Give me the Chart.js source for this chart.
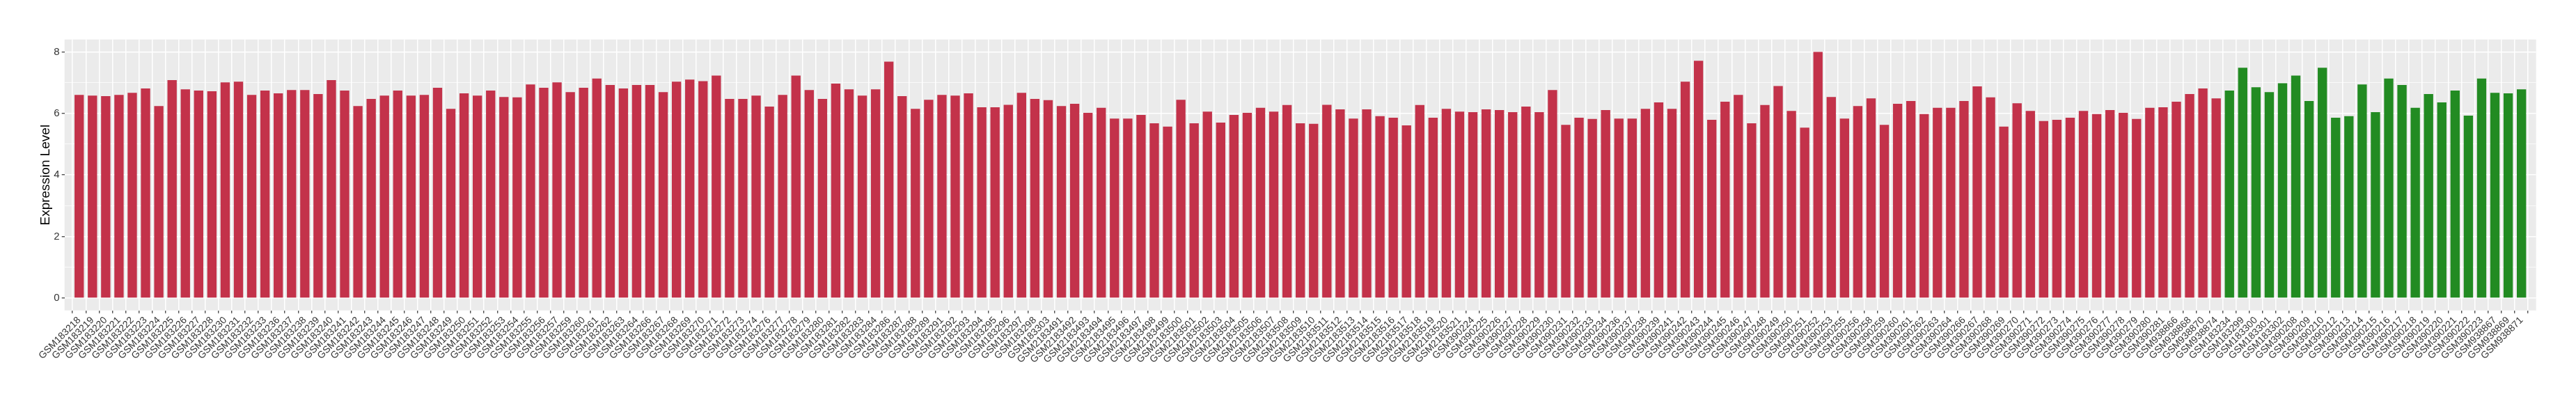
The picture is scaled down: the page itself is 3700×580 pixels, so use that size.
<!DOCTYPE html>
<html><head><meta charset="utf-8">
<script src="https://cdn.jsdelivr.net/npm/chart.js@4/dist/chart.umd.min.js"></script>
<style>html,body{margin:0;padding:0;background:#ffffff}#wrap{width:3700px;height:580px}</style>
</head><body><div id="wrap"><canvas id="c" width="3700" height="580"></canvas></div>
<script>
// ---- data ----
const caseSamples = [
'GSM183218','GSM183219','GSM183220','GSM183221','GSM183222','GSM183223','GSM183224','GSM183225','GSM183226','GSM183227',
'GSM183228','GSM183230','GSM183231','GSM183232','GSM183233','GSM183236','GSM183237','GSM183238','GSM183239','GSM183240',
'GSM183241','GSM183242','GSM183243','GSM183244','GSM183245','GSM183246','GSM183247','GSM183248','GSM183249','GSM183250',
'GSM183251','GSM183252','GSM183253','GSM183254','GSM183255','GSM183256','GSM183257','GSM183259','GSM183260','GSM183261',
'GSM183262','GSM183263','GSM183264','GSM183266','GSM183267','GSM183268','GSM183269','GSM183270','GSM183271','GSM183272',
'GSM183273','GSM183274','GSM183276','GSM183277','GSM183278','GSM183279','GSM183280','GSM183281','GSM183282','GSM183283',
'GSM183284','GSM183286','GSM183287','GSM183288','GSM183289','GSM183291','GSM183292','GSM183293','GSM183294','GSM183295',
'GSM183296','GSM183297','GSM183298','GSM183303',
'GSM2183491','GSM2183492','GSM2183493','GSM2183494','GSM2183495','GSM2183496','GSM2183497','GSM2183498','GSM2183499','GSM2183500',
'GSM2183501','GSM2183502','GSM2183503','GSM2183504','GSM2183505','GSM2183506','GSM2183507','GSM2183508','GSM2183509','GSM2183510',
'GSM2183511','GSM2183512','GSM2183513','GSM2183514','GSM2183515','GSM2183516','GSM2183517','GSM2183518','GSM2183519','GSM2183520',
'GSM2183521',
'GSM390224','GSM390225','GSM390226','GSM390227','GSM390228','GSM390229','GSM390230','GSM390231','GSM390232','GSM390233',
'GSM390234','GSM390236','GSM390237','GSM390238','GSM390239','GSM390241','GSM390242','GSM390243','GSM390244','GSM390245',
'GSM390246','GSM390247','GSM390248','GSM390249','GSM390250','GSM390251','GSM390252','GSM390253','GSM390255','GSM390256',
'GSM390258','GSM390259','GSM390260','GSM390261','GSM390262','GSM390263','GSM390264','GSM390266','GSM390267','GSM390268',
'GSM390269','GSM390270','GSM390271','GSM390272','GSM390273','GSM390274','GSM390275','GSM390276','GSM390277','GSM390278',
'GSM390279','GSM390280','GSM390281',
'GSM938866','GSM938868','GSM938870','GSM938874'
];
const caseValues = [
6.60,6.58,6.56,6.60,6.67,6.81,6.24,7.08,6.78,6.74,
6.72,7.01,7.03,6.60,6.74,6.65,6.76,6.76,6.63,7.08,
6.74,6.24,6.47,6.58,6.74,6.58,6.60,6.83,6.15,6.65,
6.58,6.74,6.53,6.52,6.94,6.83,7.01,6.69,6.83,7.13,
6.92,6.81,6.92,6.92,6.69,7.03,7.10,7.05,7.23,6.47,
6.47,6.58,6.22,6.60,7.23,6.76,6.47,6.97,6.78,6.58,
6.78,7.68,6.56,6.15,6.44,6.60,6.58,6.65,6.20,6.20,
6.28,6.67,6.47,6.43,
6.24,6.31,6.02,6.18,5.83,5.83,5.95,5.68,5.57,6.44,
5.68,6.06,5.70,5.95,6.02,6.18,6.06,6.27,5.68,5.66,
6.28,6.13,5.83,6.13,5.91,5.86,5.61,6.27,5.86,6.15,
6.06,
6.04,6.13,6.11,6.04,6.22,6.04,6.76,5.63,5.86,5.82,
6.11,5.83,5.83,6.15,6.36,6.15,7.03,7.71,5.79,6.38,
6.60,5.68,6.27,6.89,6.08,5.54,8.00,6.53,5.83,6.24,
6.49,5.63,6.31,6.40,5.98,6.18,6.18,6.40,6.88,6.52,
5.57,6.33,6.08,5.75,5.79,5.86,6.08,5.98,6.11,6.02,
5.82,6.18,6.20,
6.38,6.63,6.81,6.49
];
const controlSamples = [
'GSM183234','GSM183299','GSM183300','GSM183301','GSM183302','GSM390208','GSM390209','GSM390210','GSM390212','GSM390213',
'GSM390214','GSM390215','GSM390216','GSM390217','GSM390218','GSM390219','GSM390220','GSM390221','GSM390222','GSM390223',
'GSM938867','GSM938869','GSM938871'
];
const controlValues = [
6.74,7.48,6.85,6.69,6.98,7.23,6.40,7.48,5.86,5.91,
6.94,6.04,7.13,6.92,6.18,6.63,6.36,6.74,5.93,7.13,
6.67,6.65,6.78
];
const yTickValues = [0,2,4,6,8];
const yMinorValues = [1,3,5,7];
const yTitle = 'Expression Level';

// ---- build ----
const samples = caseSamples.concat(controlSamples);
const values = caseValues.concat(controlValues);
const CASE_COLOR = '#C3324A', CONTROL_COLOR = '#228B22';
const colors = caseSamples.map(() => CASE_COLOR).concat(controlSamples.map(() => CONTROL_COLOR));
const points = values.map((v, i) => ({x: i, y: v}));
const n = samples.length;

const FONT = '"Liberation Sans", Arial, Helvetica, sans-serif';
const PANEL = {left: 92.7, right: 3642.7, top: 56.7, bottom: 445.7};
const PAD_LEFT = 54;

const panelBg = {
  id: 'panelBg',
  beforeDraw(chart) {
    const {ctx, chartArea: a} = chart;
    ctx.save();
    ctx.fillStyle = '#EBEBEB';
    ctx.fillRect(a.left, a.top, a.right - a.left, a.bottom - a.top);
    ctx.restore();
  }
};

new Chart(document.getElementById('c'), {
  type: 'bar',
  data: {
    datasets: [{
      data: points,
      backgroundColor: colors,
      borderWidth: 0,
      barPercentage: 0.7,
      categoryPercentage: 1.0
    }]
  },
  options: {
    responsive: false,
    animation: false,
    devicePixelRatio: 1,
    layout: {padding: {left: PAD_LEFT, right: 3700 - PANEL.right, top: PANEL.top, bottom: 0}},
    plugins: {legend: {display: false}, tooltip: {enabled: false}},
    scales: {
      x: {
        type: 'linear',
        min: -0.6,
        max: n - 1 + 0.6,
        afterBuildTicks: (axis) => { axis.ticks = samples.map((_, i) => ({value: i})); },
        afterFit: (s) => { s.height = 580 - PANEL.bottom; },
        border: {display: false},
        grid: {color: '#FFFFFF', lineWidth: 1.5, drawTicks: true, tickLength: 4, tickColor: '#333333', tickWidth: 1.2},
        ticks: {
          autoSkip: false, minRotation: 45, maxRotation: 45, padding: 2,
          color: '#333333', font: {family: FONT, size: 14},
          callback: (v) => (Number.isInteger(v) && samples[v] !== undefined) ? samples[v] : ''
        }
      },
      y: {
        type: 'linear',
        min: -0.4,
        max: 8.4,
        afterBuildTicks: (axis) => {
          axis.ticks = yTickValues.concat(yMinorValues).sort((a, b) => a - b).map(v => ({value: v}));
        },
        afterFit: (s) => { s.width = PANEL.left - PAD_LEFT; },
        border: {display: false},
        grid: {
          color: '#FFFFFF',
          lineWidth: (c) => (c.tick && yTickValues.includes(c.tick.value)) ? 1.5 : 0.75,
          drawTicks: true, tickLength: 4,
          tickColor: (c) => (c.tick && yTickValues.includes(c.tick.value)) ? '#333333' : 'rgba(0,0,0,0)',
          tickWidth: 1.2
        },
        ticks: {
          padding: 3, color: '#333333', font: {family: FONT, size: 15},
          callback: (v) => yTickValues.includes(v) ? String(v) : ''
        },
        title: {display: true, text: yTitle, color: '#000000', font: {family: FONT, size: 19}, padding: 0}
      }
    }
  },
  plugins: [panelBg]
});
</script>
</body></html>
